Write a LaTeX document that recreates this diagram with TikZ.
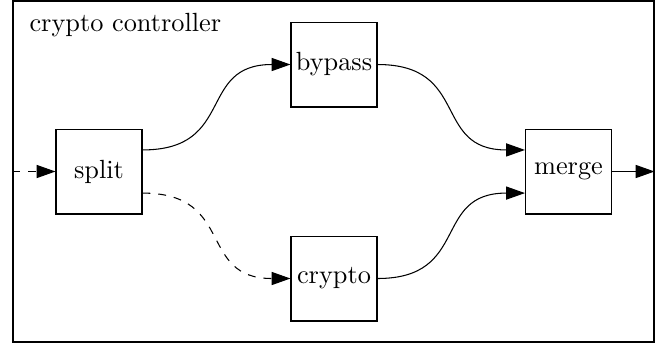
\documentclass[tikz,border=0pt]{standalone}
\usetikzlibrary{arrows.meta}
\begin{document}
\begin{tikzpicture}[x=0.3802pt,y=-0.3802pt,
  blk/.style={draw,minimum width=32.7pt,minimum height=32.3pt,inner sep=0pt,font=\normalsize},
  arr/.style={-{Triangle[length=7.2pt,width=5pt]}},
  flow/.style={arr,out=0,in=180,looseness=1.4}]
\useasboundingbox (0,0) rectangle (669,349);
\node[draw,minimum width=641*0.3802pt,minimum height=341*0.3802pt,inner sep=0pt] (frame) at (333.5,171.5) {};
\node[anchor=base west,inner sep=0pt] (title) at (29,31) {crypto controller};
\node[blk] (split) at (99,171.5) {split};
\node[blk] (bypass) at (334,64.5) {bypass};
\node[blk] (crypto) at (334,278.5) {crypto};
\node[blk] (merge) at (568.5,171.5) {merge};
\coordinate (in) at (frame.west |- split.west);
\coordinate (out) at (frame.east |- merge.east);
\draw[arr,dashed] (in) -- (split.west);
\draw[flow] ([yshift=8.2pt]split.east) to (bypass.west);
\draw[flow,dashed] ([yshift=-8.2pt]split.east) to (crypto.west);
\draw[flow] (bypass.east) to ([yshift=8.2pt]merge.west);
\draw[flow] (crypto.east) to ([yshift=-8.2pt]merge.west);
\draw[arr] (merge.east) -- (out);
\end{tikzpicture}
\end{document}
